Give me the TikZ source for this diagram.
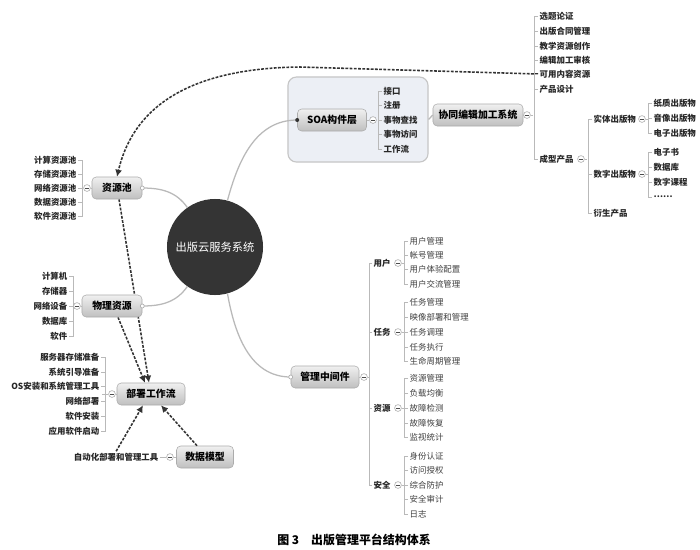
\documentclass[tikz,border=0pt]{standalone}
\usepackage{fontspec}
\setmainfont{Noto Sans CJK SC}
\usetikzlibrary{arrows.meta}
\pgfdeclarelayer{back}
\pgfsetlayers{back,main}

\definecolor{hubgray}{RGB}{52,52,52}
\definecolor{panel}{RGB}{236,239,245}

\tikzset{
  topic/.style={draw=gray!65, rounded corners=3pt, top color=gray!12, bottom color=gray!50,
    font=\bfseries\fontsize{7}{8}\selectfont, minimum height=0.55cm, inner sep=2pt},
  leaf/.style={font=\bfseries\fontsize{6}{7}\selectfont, inner sep=1pt, text=black!85},
  plain leaf/.style={font=\fontsize{6}{7}\selectfont, inner sep=1pt, text=black!75},
  fold/.style={circle, draw=gray!70, fill=white, inner sep=0pt, minimum size=0.17cm,
    path picture={\draw[black!70, line width=0.4pt]
      ([xshift=-0.045cm]path picture bounding box.center) -- ([xshift=0.045cm]path picture bounding box.center);}},
  brk/.style={draw=gray!55, line width=0.5pt},
  link/.style={draw=gray!55, line width=0.9pt},
  ref/.style={draw=black!80, line width=1.1pt, dash pattern=on 2pt off 1pt, -{Latex[length=5pt,width=5pt]}},
}

\begin{document}
\begin{tikzpicture}[x=0.025cm, y=-0.025cm]
  \useasboundingbox (0,0) rectangle (700,549);
  \begin{pgfonlayer}{back}
    \fill[white] (0,0) rectangle (700,549);
  \end{pgfonlayer}

  % centre
  \node[circle, fill=hubgray, text=white, minimum size=2.4cm, font=\fontsize{8}{9}\selectfont] (hub) at (215,247) {出版云服务系统};

  % SOA panel and its topics
  \node[draw=gray!45, fill=panel, rounded corners=6pt, line width=0.8pt, minimum width=3.5cm, minimum height=2.125cm] (soabox) at (358,119.5) {};
  \node[topic, minimum width=1.725cm] (soa) at (332,120) {SOA构件层};
  \node[topic, minimum width=2.25cm] (xt) at (478,115) {协同编辑加工系统};
  \node[topic, minimum width=1.25cm] (zyc) at (117,188) {资源池};
  \node[topic, minimum width=1.5cm] (wl) at (112,306) {物理资源};
  \node[topic, minimum width=1.7cm] (bs) at (151,394) {部署工作流};
  \node[topic, minimum width=1.425cm] (sj) at (205,457) {数据模型};
  \node[topic, minimum width=1.7cm] (glzj) at (325,377) {管理中间件};

  % links from the centre
  \draw[link] (zyc.east) to[out=0, in=125] (hub.125);
  \draw[link] (wl.east) to[out=0, in=235] (hub.235);
  \draw[link] (hub.75) to[out=75, in=180] (soa.west);
  \draw[link] (hub.285) to[out=-80, in=180] (glzj.west);
  \draw[link] (soabox.east) -- (xt.west);
  \draw[gray!60, fill=white, line width=0.5pt] (zyc.east) circle[radius=0.05cm];
  \draw[gray!60, fill=white, line width=0.5pt] (wl.east) circle[radius=0.05cm];
  \draw[gray!60, fill=white, line width=0.5pt] (glzj.west) circle[radius=0.05cm];
  \fill[black!80] (soa.west) circle[radius=0.05cm];

  % 资源池
  \foreach \t/\y [count=\i] in {计算资源池/160, 存储资源池/174, 网络资源池/188, 数据资源池/202, 软件资源池/216}
    \node[leaf, anchor=east] (zyc-\i) at (78,\y) {\t};
  \draw[brk] (zyc-1.east) -- ++(4,0) |- (zyc-5.east);
  \foreach \i in {2,3,4} \draw[brk] (zyc-\i.east) -- ++(4,0);
  \node[fold] (zyc-f) at (87,188) {};
  \draw[brk] (zyc-f) -- (zyc);

  % 物理资源
  \foreach \t/\y [count=\i] in {计算机/276, 存储器/291, 网络设备/306, 数据库/321, 软件/336}
    \node[leaf, anchor=east] (wl-\i) at (69,\y) {\t};
  \draw[brk] (wl-1.east) -- ++(4,0) |- (wl-5.east);
  \foreach \i in {2,3,4} \draw[brk] (wl-\i.east) -- ++(4,0);
  \node[fold] (wl-f) at (77,306) {};
  \draw[brk] (wl-f) -- (wl);

  % 部署工作流
  \foreach \t/\y [count=\i] in {服务器存储准备/357, 系统引导准备/372, OS安装和系统管理工具/386, 网络部署/401, 软件安装/416, 应用软件启动/431}
    \node[leaf, anchor=east] (bs-\i) at (101,\y) {\t};
  \draw[brk] (bs-1.east) -- ++(4,0) |- (bs-6.east);
  \foreach \i in {2,...,5} \draw[brk] (bs-\i.east) -- ++(4,0);
  \node[fold] (bs-f) at (112,394) {};
  \draw[brk] (bs-f.west) -- ++(-6,0);
  \draw[brk] (bs-f) -- (bs);

  % 数据模型
  \node[leaf, anchor=east] (sj-1) at (160,457) {自动化部署和管理工具};
  \node[fold] (sj-f) at (170,457) {};
  \draw[brk] (sj-1) -- (sj-f) -- (sj);

  % SOA构件层
  \foreach \t/\y [count=\i] in {接口/91, 注册/105, 事物查找/120, 事物访问/134, 工作流/149}
    \node[leaf, anchor=west] (soa-\i) at (382,\y) {\t};
  \draw[brk] (soa-1.west) -- ++(-4,0) |- (soa-5.west);
  \foreach \i in {2,3,4} \draw[brk] (soa-\i.west) -- ++(-4,0);
  \node[fold] (soa-f) at (373,120) {};
  \draw[brk] (soa) -- (soa-f);

  % 协同编辑加工系统
  \foreach \t/\y [count=\i] in {选题论证/16, 出版合同管理/31, 教学资源创作/46, 编辑加工审核/60, 可用内容资源/74, 产品设计/89, 成型产品/159}
    \node[leaf, anchor=west] (xt-\i) at (538,\y) {\t};
  \draw[brk] (xt-1.west) -- ++(-4,0) |- (xt-7.west);
  \foreach \i in {2,...,6} \draw[brk] (xt-\i.west) -- ++(-4,0);
  \node[fold] (xt-f) at (527,115) {};
  \draw[brk] (xt) -- (xt-f);
  \draw[brk] (xt-f.east) -- ++(2.6,0);

  % 成型产品
  \node[fold] (cx-f) at (581,159) {};
  \foreach \t/\y [count=\i] in {实体出版物/119, 数字出版物/174, 衍生产品/213}
    \node[leaf, anchor=west] (cx-\i) at (592,\y) {\t};
  \draw[brk] (cx-1.west) -- ++(-4,0) |- (cx-3.west);
  \draw[brk] (cx-2.west) -- ++(-4,0);
  \draw[brk] (cx-f.east) -- ++(2.6,0);

  % 实体出版物
  \node[fold] (st-f) at (642,119) {};
  \foreach \t/\y [count=\i] in {纸质出版物/103, 音像出版物/118, 电子出版物/133}
    \node[leaf, anchor=west] (st-\i) at (652,\y) {\t};
  \draw[brk] (st-1.west) -- ++(-4,0) |- (st-3.west);
  \draw[brk] (st-2.west) -- ++(-4,0);
  \draw[brk] (st-f.east) -- ++(2.2,0);

  % 数字出版物
  \node[fold] (sz-f) at (642,174) {};
  \foreach \t/\y [count=\i] in {电子书/152, 数据库/167, 数字课程/182, ……/197}
    \node[leaf, anchor=west] (sz-\i) at (652,\y) {\t};
  \draw[brk] (sz-1.west) -- ++(-4,0) |- (sz-4.west);
  \foreach \i in {2,3} \draw[brk] (sz-\i.west) -- ++(-4,0);
  \draw[brk] (sz-f.east) -- ++(2.2,0);

  % 管理中间件
  \node[fold] (gl-f) at (364,377) {};
  \draw[brk] (glzj) -- (gl-f);
  \foreach \t/\y [count=\i] in {用户/263, 任务/332, 资源/408, 安全/485}
    \node[leaf, anchor=west] (gl-\i) at (372,\y) {\t};
  \draw[brk] (gl-1.west) -- ++(-3,0) |- (gl-4.west);
  \foreach \i in {2,3} \draw[brk] (gl-\i.west) -- ++(-3,0);
  \draw[brk] (gl-f.east) -- ++(1.6,0);

  \node[fold] (yh-f) at (398,263) {};
  \foreach \t/\y [count=\i] in {用户管理/241, 帐号管理/255, 用户体验配置/269, 用户交流管理/284}
    \node[plain leaf, anchor=west] (yh-\i) at (408,\y) {\t};
  \draw[brk] (yh-1.west) -- ++(-4,0) |- (yh-4.west);
  \foreach \i in {2,3} \draw[brk] (yh-\i.west) -- ++(-4,0);
  \draw[brk] (yh-f.east) -- ++(2.6,0);

  \node[fold] (rw-f) at (398,332) {};
  \foreach \t/\y [count=\i] in {任务管理/302, 映像部署和管理/317, 任务调理/332, 任务执行/347, 生命周期管理/361}
    \node[plain leaf, anchor=west] (rw-\i) at (408,\y) {\t};
  \draw[brk] (rw-1.west) -- ++(-4,0) |- (rw-5.west);
  \foreach \i in {2,3,4} \draw[brk] (rw-\i.west) -- ++(-4,0);
  \draw[brk] (rw-f.east) -- ++(2.6,0);

  \node[fold] (zy-f) at (398,408) {};
  \foreach \t/\y [count=\i] in {资源管理/378, 负载均衡/393, 故障检测/408, 故障恢复/423, 监视统计/437}
    \node[plain leaf, anchor=west] (zy-\i) at (408,\y) {\t};
  \draw[brk] (zy-1.west) -- ++(-4,0) |- (zy-5.west);
  \foreach \i in {2,3,4} \draw[brk] (zy-\i.west) -- ++(-4,0);
  \draw[brk] (zy-f.east) -- ++(2.6,0);

  \node[fold] (aq-f) at (398,485) {};
  \foreach \t/\y [count=\i] in {身份认证/456, 访问授权/470, 综合防护/485, 安全审计/499, 日志/514}
    \node[plain leaf, anchor=west] (aq-\i) at (408,\y) {\t};
  \draw[brk] (aq-1.west) -- ++(-4,0) |- (aq-5.west);
  \foreach \i in {2,3,4} \draw[brk] (aq-\i.west) -- ++(-4,0);
  \draw[brk] (aq-f.east) -- ++(2.6,0);

  % dashed references
  \coordinate (bend) at (300,67);
  \begin{pgfonlayer}{back}
    \draw[ref] (xt-5.west) -- (bend) .. controls (200,68) and (135,100) .. (zyc.north);
    \draw[ref] ([xshift=0.05cm]zyc.south) -- ([xshift=-0.05cm]bs.north);
    \draw[ref] ([xshift=0.15cm]wl.south) -- ([xshift=-0.15cm]bs.north);
  \end{pgfonlayer}
  \draw[ref] (sj-1.north) -- ([xshift=-0.2cm]bs.south);
  \draw[ref] ([xshift=-0.2cm]sj.north) -- ([xshift=0.25cm]bs.south);

  \node[font=\bfseries\fontsize{8.5}{9}\selectfont] (cap) at (354,540) {图 3\hspace{1em}出版管理平台结构体系};
\end{tikzpicture}
\end{document}
